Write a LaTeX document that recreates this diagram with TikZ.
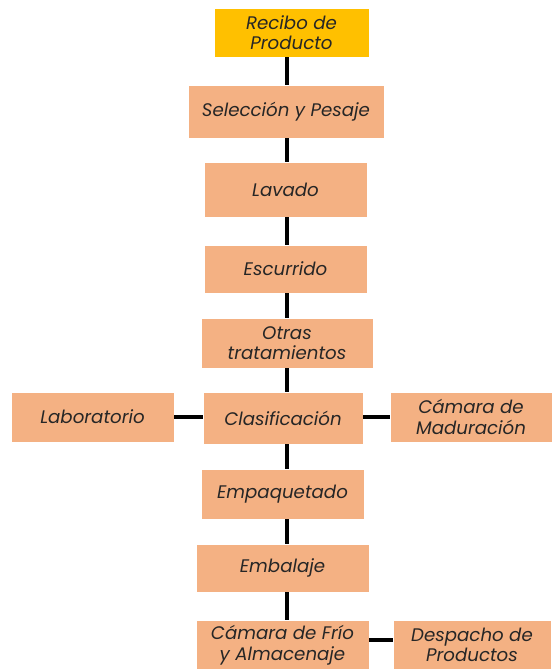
\documentclass[tikz,border=0pt]{standalone}
\usepackage{fontspec}
\setmainfont{Poppins}
\begin{document}
\begin{tikzpicture}[x=1pt,y=-1pt,
  box/.style={rectangle, fill=salmon, draw=white, line width=0.8pt, inner sep=0pt,
    align=center, font=\fontsize{18.2}{20.5}\selectfont\itshape, text=black!85},
  link/.style={line width=4.5pt, black}]
\definecolor{salmon}{HTML}{F4B183}
\definecolor{gold}{HTML}{FFC000}
\useasboundingbox (0,0) rectangle (555,669);
\coordinate (spine) at (287,0);
\node[box, fill=gold, minimum width=155, minimum height=49] (recibo) at (291.5,32.5) {Recibo de\\Producto};
\node[box, minimum width=196, minimum height=53] (seleccion) at (286,111.5) {Selección y Pesaje};
\node[box, minimum width=163, minimum height=55] (lavado) at (285.5,189.5) {Lavado};
\node[box, minimum width=163, minimum height=48] (escurrido) at (285.5,269) {Escurrido};
\node[box, minimum width=172, minimum height=50] (otras) at (287,343) {Otras\\tratamientos};
\node[box, minimum width=160, minimum height=52] (clasif) at (283,418) {Clasificación};
\node[box, minimum width=163, minimum height=50] (lab) at (92.5,417) {Laboratorio};
\node[box, minimum width=162, minimum height=50] (madur) at (471,417) {Cámara de\\Maduración};
\node[box, minimum width=163, minimum height=50] (empaq) at (282.5,494) {Empaquetado};
\node[box, minimum width=173, minimum height=48] (embal) at (282.5,568) {Embalaje};
\node[box, minimum width=173, minimum height=50] (frio) at (282.5,645) {Cámara de Frío\\y Almacenaje};
\node[box, minimum width=158, minimum height=50] (despacho) at (472,645) {Despacho de\\Productos};
\foreach \a/\b in {recibo/seleccion, seleccion/lavado, lavado/escurrido, escurrido/otras, otras/clasif, clasif/empaq, empaq/embal, embal/frio}
  \draw[link] (\a.south -| spine) -- (\b.north -| spine);
\draw[link] (lab.east) -- (lab.east -| clasif.west);
\draw[link] (madur.west -| clasif.east) -- (madur.west);
\draw[link] ([yshift=5]frio.east) -- ([yshift=5]frio.east -| despacho.west);
\end{tikzpicture}
\end{document}
